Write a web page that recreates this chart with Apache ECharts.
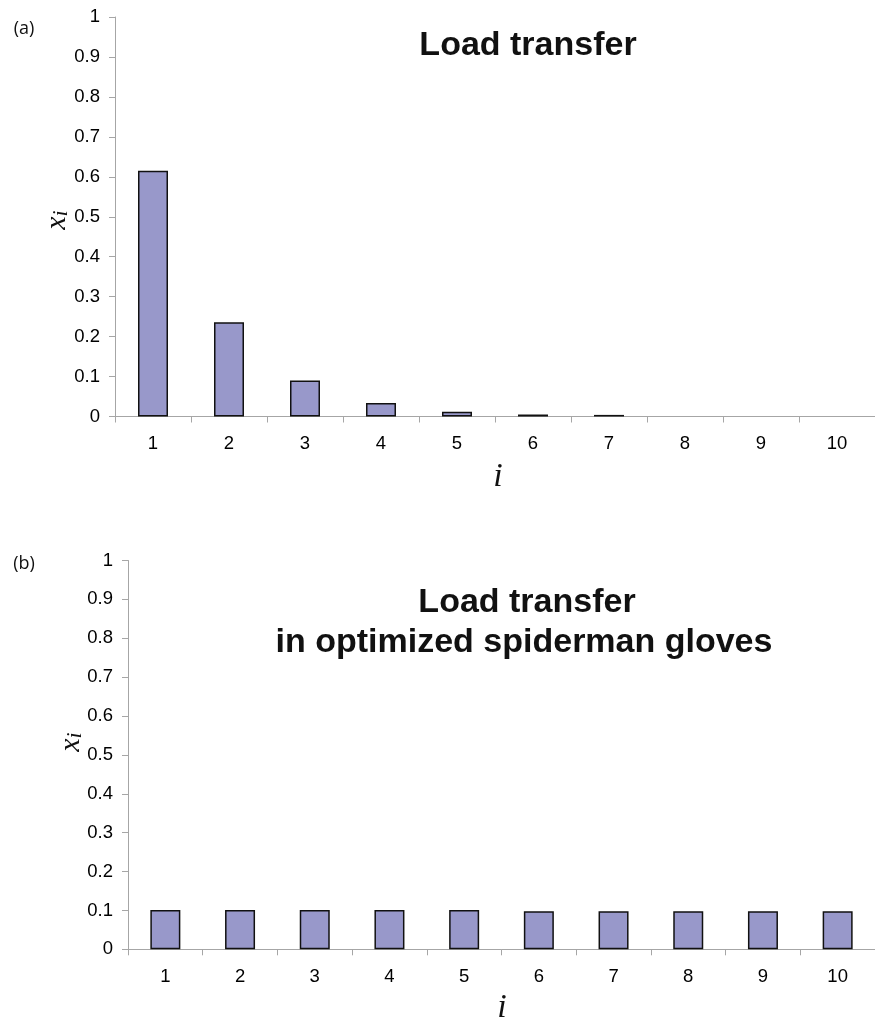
<!DOCTYPE html>
<html><head><meta charset="utf-8">
<script src="https://cdn.jsdelivr.net/npm/echarts@6/dist/echarts.min.js"></script>
<style>html,body{margin:0;padding:0;background:#fff}#c{width:875px;height:1023px}</style>
</head><body><div id="c"></div>
<script>
const categories = ['1','2','3','4','5','6','7','8','9','10'];
const loadTransfer = [0.615, 0.236, 0.090, 0.034, 0.012, 0.005, 0.004, 0, 0, 0];
const loadTransferGloves = [0.101, 0.101, 0.101, 0.101, 0.101, 0.098, 0.098, 0.098, 0.098, 0.098];
const yMin = 0, yMax = 1, yStep = 0.1;
const panelLabels = ['(a)', '(b)'];
const titleA = 'Load transfer';
const titleB = ['Load transfer', 'in optimized spiderman gloves'];
const xName = 'i';

const axisColor = '#a6a6a6';
const sans = '"Liberation Sans", Arial, sans-serif';
const serif = '"Liberation Serif", "Times New Roman", serif';

function xAx(g) {
  return {
    type: 'category', gridIndex: g, data: categories,
    axisLine: { lineStyle: { color: axisColor, width: 1 } },
    axisTick: { show: true, length: 6, alignWithLabel: false, lineStyle: { color: axisColor } },
    axisLabel: { fontSize: 18.5, color: '#000', margin: 18, fontFamily: sans },
    splitLine: { show: false }
  };
}
function yAx(g) {
  return {
    type: 'value', gridIndex: g, min: yMin, max: yMax, interval: yStep,
    axisLine: { show: true, lineStyle: { color: axisColor, width: 1 } },
    axisTick: { show: true, length: 6, lineStyle: { color: axisColor } },
    axisLabel: { fontSize: 18.5, color: '#000', margin: 15, fontFamily: sans },
    splitLine: { show: false }
  };
}
function barSeries(g, data) {
  // zero values draw no visible bar in the reference
  return {
    type: 'bar', xAxisIndex: g, yAxisIndex: g,
    data: data.map(v => (v === 0 ? '-' : v)), barWidth: 30,
    itemStyle: { color: '#9898ca', borderColor: '#111', borderWidth: 1.5 },
    silent: true, animation: false
  };
}
function txt(x, y, text, font, extra) {
  return Object.assign({
    type: 'text', x: x, y: y, silent: true,
    style: { text: text, font: font, fill: '#111', align: 'center', verticalAlign: 'middle', textAlign: 'center', textVerticalAlign: 'middle' }
  }, extra || {});
}
function yName(x, y) {
  return {
    type: 'text', x: x, y: y, rotation: Math.PI / 2, silent: true,
    style: {
      text: '{x|x}{s|i}', align: 'center', verticalAlign: 'middle', textAlign: 'center', textVerticalAlign: 'middle',
      rich: {
        x: { font: 'italic 30px ' + serif, fill: '#111', lineHeight: 30, verticalAlign: 'middle' },
        s: { font: 'italic 22px ' + serif, fill: '#111', lineHeight: 24, verticalAlign: 'bottom' }
      }
    }
  };
}

const chart = echarts.init(document.getElementById('c'), null, { renderer: 'canvas' });
chart.setOption({
  animation: false,
  backgroundColor: '#fff',
  grid: [
    { left: 115, top: 17, width: 767, height: 399.5 },
    { left: 128, top: 560.5, width: 752, height: 388.8 }
  ],
  xAxis: [xAx(0), xAx(1)],
  yAxis: [yAx(0), yAx(1)],
  series: [barSeries(0, loadTransfer), barSeries(1, loadTransferGloves)],
  graphic: [
    txt(24, 29, panelLabels[0], '18px "Open Sans", sans-serif', {}),
    txt(24, 564, panelLabels[1], '18px "Open Sans", sans-serif', {}),
    txt(528, 46, titleA, 'bold 34px ' + sans),
    txt(527, 603, titleB[0], 'bold 34px ' + sans),
    txt(524, 643, titleB[1], 'bold 34px ' + sans),
    txt(498, 477, xName, 'italic 34px ' + serif),
    txt(502, 1008, xName, 'italic 34px ' + serif),
    yName(57, 220),
    yName(71, 742)
  ]
});
</script></body></html>
